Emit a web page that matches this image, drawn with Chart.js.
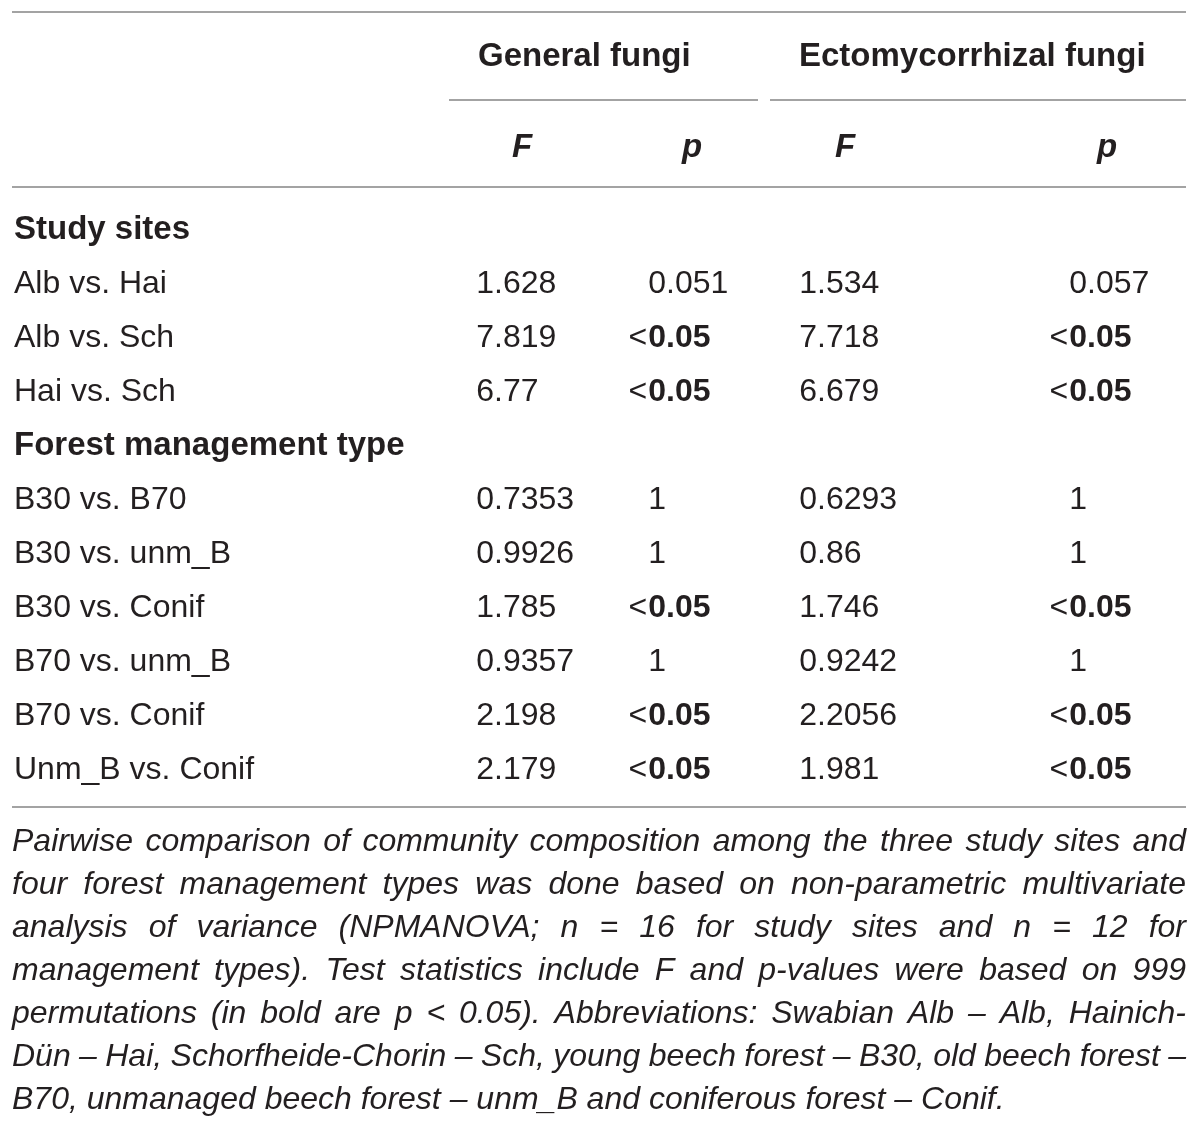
<!DOCTYPE html>
<html>
<head>
<meta charset="utf-8">
<script src="https://cdn.jsdelivr.net/npm/chart.js@4.4.0/dist/chart.umd.min.js"></script>
<style>
  html, body { margin: 0; padding: 0; background: #fff; }
  #wrap { width: 1200px; height: 1126px; position: relative; }
</style>
</head>
<body>
<div id="wrap"><canvas id="table"></canvas></div>
<script>
// table content
const groups = ["General fungi", "Ectomycorrhizal fungi"];
const statHeaders = ["F", "p", "F", "p"];
const sections = ["Study sites", "Forest management type"];
const siteComparisons = ["Alb vs. Hai", "Alb vs. Sch", "Hai vs. Sch"];
const managementComparisons = ["B30 vs. B70", "B30 vs. unm_B", "B30 vs. Conif", "B70 vs. unm_B", "B70 vs. Conif", "Unm_B vs. Conif"];
const generalF = ["1.628", "7.819", "6.77", "0.7353", "0.9926", "1.785", "0.9357", "2.198", "2.179"];
const generalP = ["0.051", "<0.05", "<0.05", "1", "1", "<0.05", "1", "<0.05", "<0.05"];
const ectoF = ["1.534", "7.718", "6.679", "0.6293", "0.86", "1.746", "0.9242", "2.2056", "1.981"];
const ectoP = ["0.057", "<0.05", "<0.05", "1", "1", "<0.05", "1", "<0.05", "<0.05"];
const captionLines = [
  "Pairwise comparison of community composition among the three study sites and",
  "four forest management types was done based on non-parametric multivariate",
  "analysis of variance (NPMANOVA; n = 16 for study sites and n = 12 for",
  "management types). Test statistics include F and p-values were based on 999",
  "permutations (in bold are p < 0.05). Abbreviations: Swabian Alb – Alb, Hainich-",
  "Dün – Hai, Schorfheide-Chorin – Sch, young beech forest – B30, old beech forest –",
  "B70, unmanaged beech forest – unm_B and coniferous forest – Conif."
];

// layout (x in px units of the x scale, y in row units of the y scale)
const FONT = "'Liberation Sans', Arial, sans-serif";
const INK = "#231f20";
const RULE = "#a3a3a3";
const colX = { label: 14, genF: 494, genP: 666, ectoF: 817, ectoP: 1087 };
const groupX = [478, 799];
const statX = [522, 692, 845, 1107];
const groupRow = -3.222, statRow = -1.537;
const captionRow0 = 11.333, captionStep = 0.7963;

// rows: section header then its comparisons
const rowLabels = [];
const rowBold = [];
const dataRow = [];
rowLabels.push(sections[0]); rowBold.push(true);
siteComparisons.forEach(c => { dataRow.push(rowLabels.length); rowLabels.push(c); rowBold.push(false); });
rowLabels.push(sections[1]); rowBold.push(true);
managementComparisons.forEach(c => { dataRow.push(rowLabels.length); rowLabels.push(c); rowBold.push(false); });

function column(x, values, kind) {
  return {
    label: kind,
    kind: kind,
    cells: values,
    data: values.map((v, i) => ({ x: x, y: kind === "label" ? i : dataRow[i] })),
    pointRadius: 0,
    showLine: false
  };
}

function reg(size) { return "300 " + size + "px " + FONT; }
function bold(size) { return "bold " + size + "px " + FONT; }

function drawDecimal(ctx, str, x, y) {
  let prefix = "", body = str;
  if (str[0] === "<") { prefix = "<"; body = str.slice(1); }
  const dot = body.indexOf(".");
  const intPart = dot < 0 ? body : body.slice(0, dot);
  const fracPart = dot < 0 ? "" : body.slice(dot);
  ctx.font = prefix ? bold(32) : reg(32);
  const intW = ctx.measureText(intPart).width;
  ctx.textAlign = "right";
  ctx.fillText(intPart, x, y);
  ctx.textAlign = "left";
  ctx.fillText(fracPart, x, y);
  if (prefix) {
    ctx.font = reg(32);
    ctx.textAlign = "right";
    ctx.fillText(prefix, x - intW - 1, y);
  }
}

function justify(ctx, line, left, right, y, last) {
  const words = line.split(" ");
  const widths = words.map(w => ctx.measureText(w).width);
  const total = widths.reduce((a, b) => a + b, 0);
  const gap = last ? ctx.measureText(" ").width : (right - left - total) / (words.length - 1);
  let x = left;
  ctx.textAlign = "left";
  words.forEach((w, i) => { ctx.fillText(w, x, y); x += widths[i] + gap; });
}

const tablePlugin = {
  id: "tablePlugin",
  afterDatasetsDraw(chart) {
    const ctx = chart.ctx;
    const xs = chart.scales.x, ys = chart.scales.y;
    const base = size => size * 0.358; // cap centre to baseline
    ctx.save();
    ctx.fillStyle = INK;
    ctx.textBaseline = "alphabetic";

    // rules
    ctx.strokeStyle = RULE;
    ctx.lineWidth = 2;
    const rule = (x0, x1, r) => {
      const y = Math.round(ys.getPixelForValue(r));
      ctx.beginPath();
      ctx.moveTo(xs.getPixelForValue(x0), y);
      ctx.lineTo(xs.getPixelForValue(x1), y);
      ctx.stroke();
    };
    rule(12, 1186, -4.0);
    rule(449, 758, -2.37);
    rule(770, 1186, -2.37);
    rule(12, 1186, -0.759);
    rule(12, 1186, 10.722);

    // group headers
    ctx.font = bold(33);
    ctx.textAlign = "left";
    groups.forEach((g, i) => ctx.fillText(g, xs.getPixelForValue(groupX[i]), ys.getPixelForValue(groupRow) + base(33)));

    // F / p headers
    ctx.font = "italic bold 33px " + FONT;
    ctx.textAlign = "center";
    statHeaders.forEach((s, i) => ctx.fillText(s, xs.getPixelForValue(statX[i]), ys.getPixelForValue(statRow) + base(33)));

    // body cells from dataset elements
    chart.data.datasets.forEach((ds, di) => {
      const meta = chart.getDatasetMeta(di);
      meta.data.forEach((pt, i) => {
        const txt = ds.cells[i];
        const y = pt.y + base(32);
        if (ds.kind === "label") {
          ctx.font = rowBold[i] ? bold(33) : reg(32);
          ctx.textAlign = "left";
          ctx.fillText(txt, pt.x, y);
        } else {
          drawDecimal(ctx, txt, pt.x, y);
        }
      });
    });

    // caption
    ctx.font = "italic 300 32px " + FONT;
    captionLines.forEach((line, i) => {
      const y = ys.getPixelForValue(captionRow0 + i * captionStep) + base(32);
      justify(ctx, line, xs.getPixelForValue(12), xs.getPixelForValue(1186), y, i === captionLines.length - 1);
    });
    ctx.restore();
  }
};

new Chart(document.getElementById("table"), {
  type: "scatter",
  data: {
    datasets: [
      column(colX.label, rowLabels, "label"),
      column(colX.genF, generalF, "genF"),
      column(colX.genP, generalP, "genP"),
      column(colX.ectoF, ectoF, "ectoF"),
      column(colX.ectoP, ectoP, "ectoP")
    ]
  },
  options: {
    responsive: true,
    maintainAspectRatio: false,
    animation: false,
    events: [],
    layout: { padding: 0 },
    plugins: { legend: { display: false }, tooltip: { enabled: false } },
    scales: {
      x: { type: "linear", min: 0, max: 1200, display: false },
      y: { type: "linear", min: -228 / 54, max: (1126 - 228) / 54, reverse: true, display: false }
    }
  },
  plugins: [tablePlugin]
});
</script>
</body>
</html>
